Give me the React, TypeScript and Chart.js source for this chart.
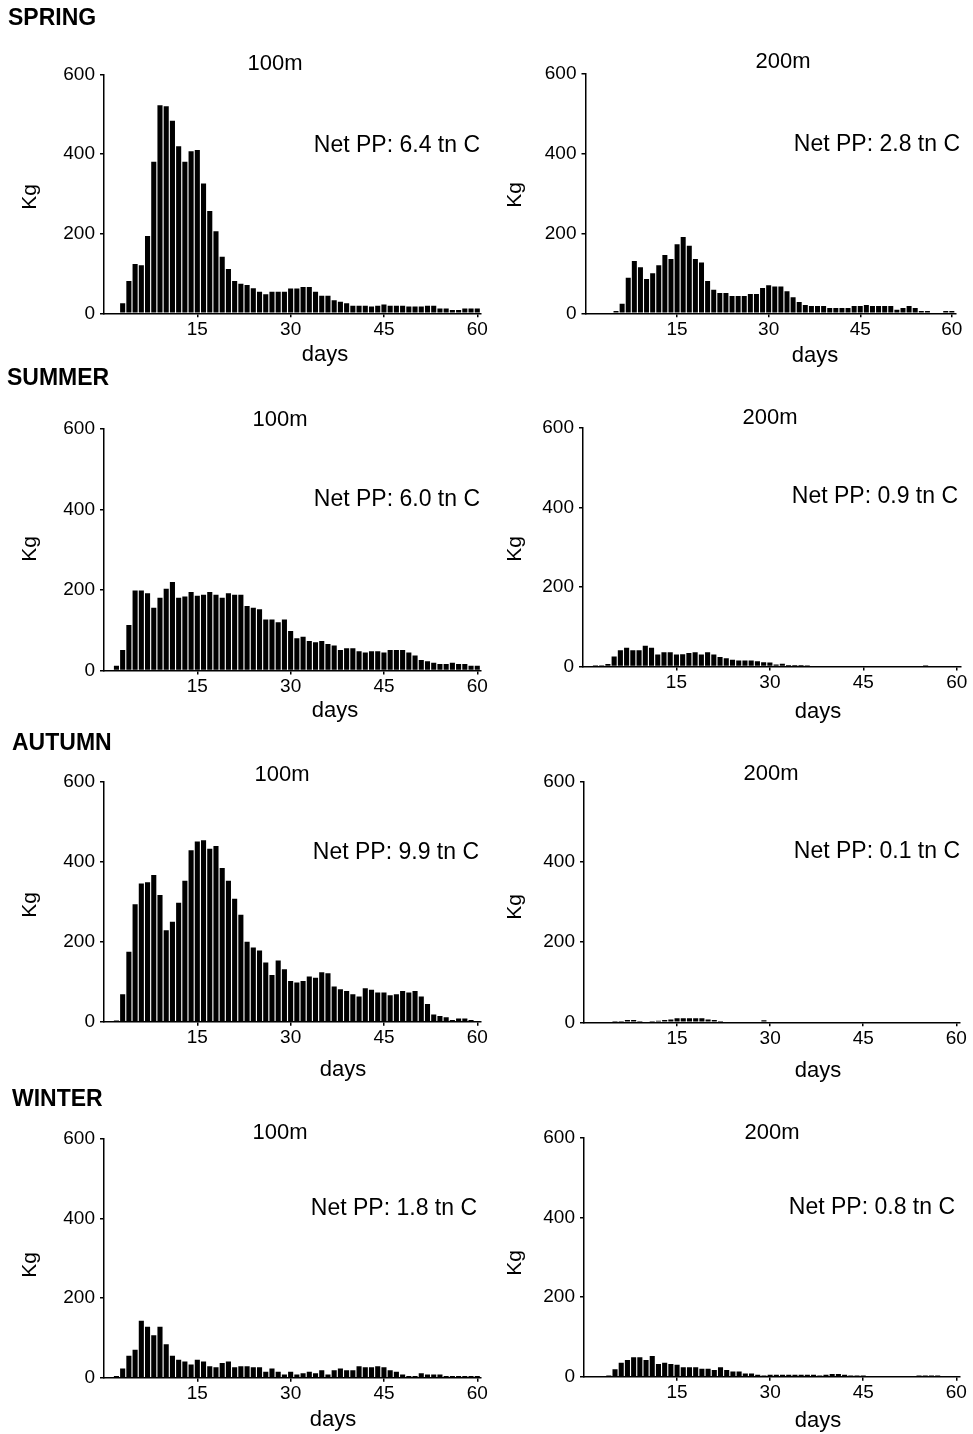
import React, { useEffect, useRef } from "react";
import { Chart, registerables } from "chart.js";

Chart.register(...registerables);

const FONT = '"Liberation Sans", Arial, Helvetica, sans-serif';

// ---- data ----
const days = [
  1, 2, 3, 4, 5, 6, 7, 8, 9, 10, 11, 12, 13, 14, 15, 16, 17, 18, 19, 20,
  21, 22, 23, 24, 25, 26, 27, 28, 29, 30, 31, 32, 33, 34, 35, 36, 37, 38, 39, 40,
  41, 42, 43, 44, 45, 46, 47, 48, 49, 50, 51, 52, 53, 54, 55, 56, 57, 58, 59, 60,
];
const xTickValues = [15, 30, 45, 60];
const yTickValues = [0, 200, 400, 600];

const spring100 = [
  0, 0, 25, 81, 124, 121, 194, 381, 523, 520, 484, 420, 381, 407, 410, 326, 257, 206, 142, 111,
  81, 74, 71, 63, 54, 48, 54, 54, 54, 62, 62, 66, 66, 54, 44, 44, 33, 29, 25, 19,
  19, 19, 17, 19, 22, 19, 19, 19, 17, 17, 17, 19, 19, 12, 12, 8, 8, 12, 12, 12,
];
const spring200 = [
  0, 0, 0, 0, 6, 24, 89, 131, 115, 86, 100, 120, 146, 136, 173, 191, 169, 136, 127, 81,
  59, 51, 51, 43, 43, 43, 48, 48, 63, 70, 67, 67, 55, 40, 28, 21, 18, 18, 18, 13,
  13, 13, 13, 18, 18, 21, 18, 18, 18, 18, 9, 13, 18, 13, 6, 6, 0, 0, 6, 6,
];
const summer100 = [
  0, 12, 51, 113, 199, 199, 192, 156, 181, 203, 220, 181, 184, 195, 186, 188, 195, 188, 181, 192,
  188, 188, 160, 156, 152, 127, 127, 120, 127, 98, 80, 84, 73, 70, 73, 66, 62, 51, 55, 55,
  48, 45, 48, 48, 45, 51, 51, 51, 45, 37, 26, 23, 19, 16, 16, 19, 16, 16, 12, 12,
];
const summer200 = [
  0, 3, 3, 6, 25, 41, 47, 41, 41, 52, 47, 30, 36, 36, 30, 31, 34, 36, 30, 36,
  30, 24, 21, 17, 15, 15, 15, 13, 11, 10, 5, 7, 4, 4, 4, 3, 2, 2, 2, 2,
  0, 0, 0, 0, 0, 0, 2, 2, 2, 2, 0, 0, 0, 0, 3, 0, 0, 0, 0, 0,
];
const autumn100 = [
  0, 3, 69, 175, 294, 346, 349, 367, 317, 229, 250, 298, 353, 429, 451, 454, 433, 440, 385, 353,
  308, 268, 200, 186, 178, 148, 117, 153, 131, 102, 98, 102, 113, 110, 124, 121, 88, 81, 77, 69,
  63, 84, 80, 73, 73, 66, 69, 77, 73, 77, 63, 44, 18, 14, 11, 4, 8, 8, 4, 0,
];
const autumn200 = [
  0, 0, 0, 0, 3, 3, 6, 6, 3, 0, 3, 4, 6, 7, 10, 10, 10, 10, 10, 7,
  6, 3, 0, 0, 0, 0, 0, 0, 5, 0, 0, 0, 0, 0, 0, 0, 0, 0, 0, 0,
  0, 0, 0, 0, 0, 0, 0, 0, 0, 0, 0, 0, 0, 0, 0, 0, 0, 0, 0, 0,
];
const winter100 = [
  0, 4, 23, 55, 70, 143, 128, 107, 128, 84, 55, 45, 41, 33, 45, 41, 29, 26, 37, 41,
  26, 29, 29, 26, 26, 15, 23, 15, 8, 15, 8, 11, 15, 11, 19, 8, 19, 23, 19, 19,
  29, 26, 26, 29, 26, 19, 15, 8, 4, 4, 11, 8, 8, 8, 4, 4, 4, 4, 4, 4,
];
const winter200 = [
  0, 0, 0, 3, 19, 35, 42, 49, 49, 42, 52, 32, 35, 32, 30, 24, 24, 24, 20, 20,
  17, 24, 17, 13, 13, 8, 8, 5, 3, 5, 5, 5, 5, 5, 5, 5, 5, 3, 5, 7,
  7, 5, 3, 3, 3, 0, 0, 0, 0, 0, 0, 0, 0, 3, 3, 3, 3, 0, 0, 0,
];

const seasonLabels = ["SPRING", "SUMMER", "AUTUMN", "WINTER"];
const depthLabels = ["100m", "200m"];
const netPPLabels = [
  "Net PP: 6.4 tn C", "Net PP: 2.8 tn C",
  "Net PP: 6.0 tn C", "Net PP: 0.9 tn C",
  "Net PP: 9.9 tn C", "Net PP: 0.1 tn C",
  "Net PP: 1.8 tn C", "Net PP: 0.8 tn C",
];
const seriesList = [spring100, spring200, summer100, summer200, autumn100, autumn200, winter100, winter200];

// ---- layout (page coordinates) ----
const ROW_TOPS = [0, 360, 720, 1080];
const ROW_HEIGHTS = [374, 374, 374, 354];
const COL_LEFTS = [0, 490];
const COL_WIDTHS = [500, 483];

type Geo = {
  left: number; right: number; top: number; bottom: number;
  title: [number, number]; net: [number, number]; kg: [number, number]; daysLbl: [number, number];
};
const geos: Geo[] = [
  { left: 104, right: 481, top: 74.5, bottom: 313.3, title: [275, 64], net: [480, 146], kg: [30, 197], daysLbl: [325, 355] },
  { left: 585.5, right: 955.5, top: 73.5, bottom: 313.3, title: [783, 62], net: [960, 145], kg: [515, 195], daysLbl: [815, 356] },
  { left: 104, right: 481, top: 429, bottom: 670.5, title: [280, 420], net: [480, 500], kg: [30, 549], daysLbl: [335, 711] },
  { left: 583, right: 960.5, top: 428, bottom: 666.5, title: [770, 418], net: [958, 497], kg: [515, 549], daysLbl: [818, 712] },
  { left: 104, right: 481, top: 782, bottom: 1021.7, title: [282, 775], net: [479, 853], kg: [30, 905], daysLbl: [343, 1070] },
  { left: 584, right: 960, top: 782, bottom: 1022.3, title: [771, 774], net: [960, 852], kg: [515, 907], daysLbl: [818, 1071] },
  { left: 104, right: 481, top: 1139, bottom: 1377.7, title: [280, 1133], net: [477, 1209], kg: [30, 1265], daysLbl: [333, 1420] },
  { left: 584, right: 960, top: 1138, bottom: 1376.7, title: [772, 1133], net: [955, 1208], kg: [515, 1263], daysLbl: [818, 1421] },
];

const seasonPos = [
  [8, 10], [7, 370], [12, 735], [12, 1091],
];

function Panel({ idx }: { idx: number }) {
  const ref = useRef<HTMLCanvasElement>(null);
  const row = Math.floor(idx / 2);
  const col = idx % 2;
  const colLeft = COL_LEFTS[col];
  const colWidth = COL_WIDTHS[col];
  const rowTop = ROW_TOPS[row];
  const h = ROW_HEIGHTS[row];

  useEffect(() => {
    const canvas = ref.current;
    if (!canvas) return;
    const g = geos[idx];
    const values = seriesList[idx];
    const textPlugin = {
      id: "panelText" + idx,
      afterDraw(chart: any) {
        const ctx = chart.ctx;
        ctx.save();
        ctx.fillStyle = "#000";
        ctx.textBaseline = "middle";
        ctx.font = `22px ${FONT}`;
        ctx.textAlign = "center";
        ctx.fillText(depthLabels[col], g.title[0] - colLeft, g.title[1] - rowTop);
        ctx.font = `23px ${FONT}`;
        ctx.textAlign = "right";
        ctx.fillText(netPPLabels[idx], g.net[0] - colLeft, g.net[1] - rowTop);
        ctx.font = `22px ${FONT}`;
        ctx.textAlign = "center";
        ctx.fillText("days", g.daysLbl[0] - colLeft, g.daysLbl[1] - rowTop);
        ctx.translate(g.kg[0] - colLeft, g.kg[1] - rowTop);
        ctx.rotate(-Math.PI / 2);
        ctx.font = `21px ${FONT}`;
        ctx.textAlign = "center";
        ctx.fillText("Kg", 0, 0);
        ctx.restore();
      },
    };
    const tickFont = { family: FONT, size: 19 };
    const bottomInCanvas = g.bottom - rowTop;
    const chart = new Chart(canvas, {
      type: "bar",
      data: {
        datasets: [
          {
            data: days.map((d, i) => ({ x: d, y: values[i] })),
            backgroundColor: "#000",
            borderWidth: 0,
            barPercentage: 0.82,
            categoryPercentage: 1,
          } as any,
        ],
      },
      options: {
        animation: false,
        responsive: false,
        maintainAspectRatio: false,
        layout: {
          padding: { left: 0, top: g.top - rowTop, right: colLeft + colWidth - g.right, bottom: h - bottomInCanvas - 40 },
        },
        plugins: { legend: { display: false }, tooltip: { enabled: false }, title: { display: false } },
        scales: {
          x: {
            type: "linear",
            min: 0,
            max: 60.6,
            offset: false,
            grid: { display: true, drawOnChartArea: false, drawTicks: true, tickLength: 4, color: "#000", lineWidth: 1.5, offset: false },
            border: { display: true, color: "#000", width: 1.5 },
            ticks: { color: "#000", font: tickFont, padding: 1, maxRotation: 0, autoSkip: false, callback: (v: any) => String(v) },
            afterBuildTicks: (s: any) => { s.ticks = xTickValues.map((v) => ({ value: v })); },
            afterFit: (s: any) => { s.height = 40; },
          },
          y: {
            type: "linear",
            min: 0,
            max: 600,
            grid: { display: true, drawOnChartArea: false, drawTicks: true, tickLength: 4, color: "#000", lineWidth: 1.5 },
            border: { display: true, color: "#000", width: 1.5 },
            ticks: { color: "#000", font: tickFont, padding: 5, autoSkip: false, callback: (v: any) => String(v) },
            afterBuildTicks: (s: any) => { s.ticks = yTickValues.map((v) => ({ value: v })); },
            afterFit: (s: any) => { s.width = g.left - colLeft; },
          },
        },
      } as any,
      plugins: [textPlugin],
    });
    return () => chart.destroy();
  }, []);

  return (
    <canvas
      ref={ref}
      width={colWidth}
      height={h}
      style={{ position: "absolute", left: colLeft, top: rowTop, width: colWidth, height: h }}
    />
  );
}

export default function App() {
  return (
    <div
      style={{
        position: "absolute",
        left: 0,
        top: 0,
        width: 973,
        height: 1434,
        overflow: "hidden",
        background: "#fff",
        fontFamily: FONT,
      }}
    >
      {[0, 1, 2, 3, 4, 5, 6, 7].map((i) => (
        <Panel key={i} idx={i} />
      ))}
      {seasonLabels.map((s, i) => (
        <div
          key={s}
          style={{
            position: "absolute",
            left: seasonPos[i][0],
            top: seasonPos[i][1] - 4,
            fontSize: 23,
            lineHeight: "23px",
            fontWeight: "bold",
            color: "#000",
            whiteSpace: "nowrap",
          }}
        >
          {s}
        </div>
      ))}
    </div>
  );
}
